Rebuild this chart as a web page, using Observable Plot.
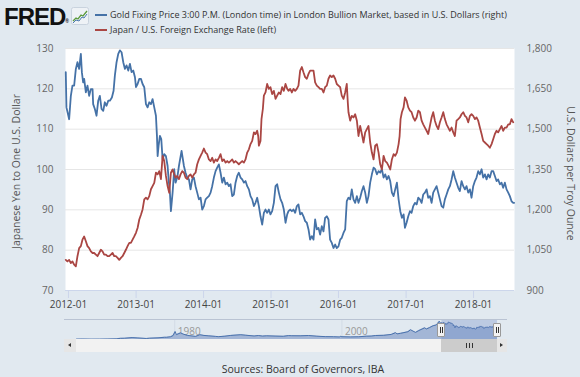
<!DOCTYPE html>
<html><head><meta charset="utf-8">
<script src="https://cdn.jsdelivr.net/npm/d3@7"></script>
<script src="https://cdn.jsdelivr.net/npm/@observablehq/plot@0.6"></script>
<style>
html,body{margin:0;padding:0;background:#e1e9f0;}
body{width:580px;height:377px;position:relative;overflow:hidden;font-family:"Open Sans",sans-serif;}
#header{position:absolute;left:0;top:0;width:580px;height:40px;}
#logo{position:absolute;left:4px;top:3px;font:bold 24px "Liberation Sans",Arial,sans-serif;color:#111;letter-spacing:-1px;}
#logo sup{font-size:5px;letter-spacing:0;vertical-align:top;position:relative;top:15px;}
#icon{position:absolute;left:71px;top:7px;}
.leg{position:absolute;left:95px;height:14px;font-size:9px;color:#333;white-space:nowrap;}
.leg i{position:absolute;left:0;top:6px;width:12px;height:2px;}
.leg span{position:absolute;left:15px;top:0;line-height:14px;}
#main{position:absolute;left:0;top:40px;}
#nav{position:absolute;left:0;top:319px;}
#navtop{position:absolute;left:64px;top:319px;width:443px;height:1px;background:#b9c3d3;}
#track{position:absolute;left:64px;top:339px;width:443px;height:13px;background:#f2f2f2;}
.btn{position:absolute;top:339px;width:12px;height:13px;background:#e6e6e6;}
.btn b{position:absolute;top:4px;width:0;height:0;border-top:2.5px solid transparent;border-bottom:2.5px solid transparent;}
#thumb{position:absolute;top:339px;height:13px;background:#cccccc;}
#thumb em{position:absolute;top:4px;width:1px;height:5px;background:#333;}
.handle{position:absolute;top:323px;width:6px;height:12px;background:#f2f2f2;border:1px solid #999;border-radius:1px;}
.handle i{position:absolute;top:3px;width:1px;height:6px;background:#333;}
#caption{position:absolute;left:0;top:362px;width:606px;text-align:center;font-size:10.5px;color:#333;}
</style></head><body>
<div id="header">
  <div id="logo">FRED<sup>®</sup></div>
  <svg id="icon" width="18" height="18" viewBox="0 0 18 18">
    <rect x="0.5" y="0.5" width="17" height="17" rx="2" fill="#eef2f6" stroke="#c9d3de"/>
    <polyline points="2,14 5,11 7,12 10,8 12,9 16,4" fill="none" stroke="#5b9a3c" stroke-width="1.3"/>
    <polyline points="2,16 5,13 8,14 11,10 13,11 16,7" fill="none" stroke="#4a78b0" stroke-width="1"/>
  </svg>
  <div class="leg" style="top:8px"><i style="background:#4572a7"></i><span id="leg1"></span></div>
  <div class="leg" style="top:23px"><i style="background:#aa4643"></i><span id="leg2"></span></div>
</div>
<div id="main"></div>
<div id="navtop"></div>
<div id="nav"></div>
<div id="track"></div>
<div class="btn" style="left:64px"><b style="left:4px;border-right:3px solid #333"></b></div>
<div class="btn" style="left:495px"><b style="left:5px;border-left:3px solid #333"></b></div>
<div id="thumb"><em></em><em></em><em></em></div>
<div class="handle" id="h1"><i style="left:1.5px"></i><i style="left:3.5px"></i></div>
<div class="handle" id="h2"><i style="left:1.5px"></i><i style="left:3.5px"></i></div>
<div id="caption"></div>
<script>
// ---------- text ----------
const goldSeriesName = "Gold Fixing Price 3:00 P.M. (London time) in London Bullion Market, based in U.S. Dollars (right)";
const yenSeriesName = "Japan / U.S. Foreign Exchange Rate (left)";
const leftTitle = "Japanese Yen to One U.S. Dollar";
const rightTitle = "U.S. Dollars per Troy Ounce";
const sourceText = "Sources: Board of Governors, IBA";

// ---------- axes ----------
const yenTicks = [70, 80, 90, 100, 110, 120, 130];
const goldTicks = [900, 1050, 1200, 1350, 1500, 1650, 1800];
const xRange = [2011.956, 2018.607];          // decimal years shown in the main chart
const navRange = [1968.25, 2018.607];         // decimal years shown in the navigator
const navYearLabels = [1980, 2000];

// ---------- data: [decimal year, value] ----------
const gold = [
[2011.960,1712],[2011.970,1581],[2012.010,1537],[2012.035,1624],[2012.059,1662],[2012.084,1662],[2012.109,1724],[2012.133,1749],[2012.158,1724],[2012.183,1780],[2012.198,1712],[2012.217,1674],[2012.232,1687],[2012.257,1637],[2012.281,1662],[2012.306,1624],[2012.331,1649],[2012.356,1649],[2012.365,1593],[2012.390,1575],[2012.415,1550],[2012.440,1606],[2012.464,1624],[2012.489,1575],[2012.514,1568],[2012.538,1600],[2012.563,1587],[2012.588,1606],[2012.612,1606],[2012.642,1618],[2012.667,1643],[2012.686,1699],[2012.711,1749],[2012.736,1780],[2012.760,1793],[2012.785,1786],[2012.810,1749],[2012.835,1724],[2012.859,1737],[2012.884,1718],[2012.909,1743],[2012.933,1712],[2012.958,1718],[2012.983,1693],[2012.998,1656],[2013.022,1668],[2013.047,1687],[2013.072,1687],[2013.096,1668],[2013.121,1656],[2013.146,1593],[2013.170,1581],[2013.195,1600],[2013.220,1593],[2013.244,1612],[2013.269,1581],[2013.294,1550],[2013.309,1475],[2013.319,1400],[2013.333,1438],[2013.353,1475],[2013.373,1463],[2013.393,1388],[2013.417,1407],[2013.442,1400],[2013.467,1363],[2013.482,1313],[2013.501,1264],[2013.516,1195],[2013.541,1264],[2013.565,1351],
[2013.585,1301],[2013.610,1320],[2013.635,1363],[2013.674,1419],[2013.709,1363],[2013.733,1338],[2013.758,1320],[2013.783,1313],[2013.807,1276],[2013.832,1313],[2013.857,1320],[2013.881,1288],[2013.906,1264],[2013.931,1239],[2013.956,1245],[2013.980,1201],[2014.005,1214],[2014.030,1239],[2014.054,1245],[2014.079,1251],[2014.104,1264],[2014.128,1288],[2014.153,1320],[2014.178,1344],[2014.202,1357],[2014.227,1369],[2014.252,1338],[2014.277,1301],[2014.301,1320],[2014.326,1295],[2014.351,1301],[2014.375,1288],[2014.400,1295],[2014.425,1251],[2014.449,1257],[2014.474,1301],[2014.499,1326],[2014.523,1338],[2014.548,1320],[2014.573,1313],[2014.598,1301],[2014.622,1307],[2014.647,1288],[2014.672,1276],[2014.696,1251],[2014.721,1239],[2014.746,1214],[2014.770,1226],[2014.795,1245],[2014.820,1214],[2014.844,1176],[2014.869,1145],[2014.894,1189],[2014.918,1201],[2014.943,1189],[2014.968,1201],[2014.992,1183],[2015.017,1195],[2015.042,1226],[2015.067,1288],[2015.091,1295],[2015.116,1264],[2015.141,1239],[2015.165,1226],[2015.190,1201],[2015.215,1152],[2015.240,1183],
[2015.259,1195],[2015.284,1201],[2015.309,1195],[2015.333,1201],[2015.358,1189],[2015.383,1214],[2015.407,1220],[2015.432,1183],[2015.457,1189],[2015.481,1176],[2015.506,1158],[2015.531,1152],[2015.556,1127],[2015.580,1089],[2015.605,1102],[2015.630,1089],[2015.654,1164],[2015.679,1127],[2015.704,1133],[2015.728,1108],[2015.753,1139],[2015.778,1120],[2015.802,1170],[2015.827,1176],[2015.852,1164],[2015.876,1089],[2015.901,1077],[2015.926,1058],[2015.951,1071],[2015.975,1058],[2016.000,1064],[2016.025,1089],[2016.049,1096],[2016.074,1114],[2016.099,1127],[2016.123,1232],[2016.148,1245],[2016.173,1239],[2016.197,1276],[2016.222,1239],[2016.247,1226],[2016.272,1251],[2016.296,1226],[2016.321,1245],[2016.346,1270],[2016.370,1288],[2016.395,1264],[2016.420,1226],[2016.444,1251],[2016.469,1301],[2016.494,1332],[2016.519,1357],[2016.543,1351],[2016.568,1332],[2016.593,1344],[2016.617,1338],[2016.642,1351],[2016.667,1320],[2016.691,1332],[2016.716,1313],[2016.741,1326],[2016.765,1307],[2016.790,1264],[2016.815,1251],[2016.839,1276],[2016.864,1301],[2016.889,1239],[2016.914,1195],[2016.938,1170],[2016.963,1183],
[2016.983,1133],[2017.007,1152],[2017.032,1176],[2017.057,1195],[2017.081,1189],[2017.106,1214],[2017.131,1226],[2017.156,1220],[2017.180,1245],[2017.205,1239],[2017.230,1226],[2017.254,1257],[2017.279,1264],[2017.304,1276],[2017.328,1245],[2017.353,1251],[2017.378,1226],[2017.402,1264],[2017.427,1276],[2017.452,1288],[2017.476,1264],[2017.501,1239],[2017.526,1214],[2017.551,1208],[2017.575,1239],[2017.600,1257],[2017.625,1276],[2017.649,1288],[2017.674,1313],[2017.699,1344],[2017.723,1320],[2017.748,1301],[2017.773,1282],[2017.797,1270],[2017.822,1307],[2017.847,1288],[2017.872,1276],[2017.896,1288],[2017.921,1264],[2017.946,1276],[2017.970,1245],[2017.995,1288],[2018.020,1307],[2018.044,1320],[2018.069,1344],[2018.094,1332],[2018.119,1351],[2018.143,1320],[2018.168,1332],[2018.193,1313],[2018.217,1332],[2018.242,1320],[2018.267,1344],[2018.291,1344],[2018.316,1326],[2018.341,1307],[2018.365,1313],[2018.390,1295],[2018.415,1301],[2018.439,1282],[2018.464,1301],[2018.489,1276],[2018.514,1264],[2018.538,1251],[2018.563,1232],[2018.588,1226],[2018.602,1226]
];

const yen = [
[2011.960,77.6],[2011.984,77.2],[2012.010,77.6],[2012.035,76.8],[2012.059,77.2],[2012.084,76.4],[2012.109,76.0],[2012.133,78.5],[2012.158,80.5],[2012.183,81.0],[2012.207,82.6],[2012.232,83.4],[2012.257,82.2],[2012.281,81.0],[2012.306,80.5],[2012.331,79.7],[2012.356,79.3],[2012.380,79.3],[2012.405,78.9],[2012.430,78.5],[2012.454,79.3],[2012.479,80.1],[2012.504,79.7],[2012.528,78.9],[2012.553,78.9],[2012.578,78.5],[2012.602,78.5],[2012.627,78.9],[2012.652,79.3],[2012.677,78.5],[2012.701,78.5],[2012.726,78.1],[2012.751,77.6],[2012.775,78.1],[2012.800,78.5],[2012.825,79.3],[2012.849,80.1],[2012.874,81.0],[2012.899,81.8],[2012.923,81.8],[2012.948,82.6],[2012.973,83.4],[2012.998,84.3],[2013.022,85.5],[2013.047,87.6],[2013.072,88.8],[2013.096,90.1],[2013.121,92.6],[2013.146,93.0],[2013.170,92.6],[2013.195,93.4],[2013.220,95.1],[2013.244,95.9],[2013.269,96.7],[2013.294,99.2],[2013.319,98.8],[2013.343,99.6],[2013.368,97.6],[2013.393,103.4],[2013.417,102.1],[2013.442,98.4],[2013.467,95.9],[2013.491,94.2],[2013.516,99.2],[2013.541,100.0],[2013.565,98.8],
[2013.585,98.0],[2013.610,98.4],[2013.635,97.6],[2013.659,98.8],[2013.684,99.6],[2013.709,99.2],[2013.733,98.0],[2013.758,97.6],[2013.783,98.4],[2013.807,98.8],[2013.832,98.0],[2013.857,98.8],[2013.881,99.2],[2013.906,101.3],[2013.931,102.5],[2013.956,103.4],[2013.980,104.2],[2014.005,105.2],[2014.030,104.2],[2014.054,103.8],[2014.079,102.5],[2014.104,102.1],[2014.128,102.9],[2014.153,101.7],[2014.178,102.5],[2014.202,102.1],[2014.227,102.9],[2014.252,103.8],[2014.277,102.1],[2014.301,102.5],[2014.326,101.7],[2014.351,102.1],[2014.375,101.7],[2014.400,102.1],[2014.425,102.5],[2014.449,101.7],[2014.474,102.1],[2014.499,101.7],[2014.523,101.3],[2014.548,101.7],[2014.573,102.1],[2014.598,101.7],[2014.622,102.5],[2014.647,104.2],[2014.672,105.0],[2014.696,106.3],[2014.721,107.1],[2014.746,109.2],[2014.770,108.8],[2014.795,109.6],[2014.810,108.3],[2014.820,105.9],[2014.844,107.1],[2014.859,112.5],[2014.879,115.0],[2014.894,118.3],[2014.918,119.1],[2014.943,121.2],[2014.968,120.0],[2014.992,120.4],[2015.017,118.7],[2015.042,119.5],[2015.067,117.5],[2015.091,118.3],[2015.116,119.1],[2015.141,118.7],[2015.165,120.4],[2015.190,119.5],[2015.215,121.2],[2015.240,120.0],
[2015.259,119.5],[2015.284,120.0],[2015.309,119.1],[2015.333,120.0],[2015.358,119.5],[2015.383,120.0],[2015.407,120.8],[2015.432,124.5],[2015.457,125.4],[2015.481,124.1],[2015.506,122.9],[2015.531,122.5],[2015.556,123.7],[2015.580,124.5],[2015.605,124.5],[2015.630,124.5],[2015.654,121.6],[2015.679,120.8],[2015.704,120.4],[2015.728,120.0],[2015.753,120.0],[2015.778,119.1],[2015.802,120.4],[2015.827,120.8],[2015.852,122.5],[2015.876,123.3],[2015.901,122.9],[2015.926,123.3],[2015.951,122.5],[2015.975,121.2],[2016.000,120.8],[2016.025,120.4],[2016.049,118.3],[2016.074,117.5],[2016.099,119.1],[2016.123,121.2],[2016.138,116.6],[2016.148,114.2],[2016.173,112.1],[2016.197,113.3],[2016.222,112.9],[2016.247,113.7],[2016.272,112.1],[2016.296,108.3],[2016.321,110.8],[2016.346,108.8],[2016.370,106.7],[2016.395,109.2],[2016.420,110.0],[2016.444,110.8],[2016.469,106.7],[2016.494,104.2],[2016.519,102.5],[2016.543,105.9],[2016.568,106.3],[2016.593,104.2],[2016.617,101.3],[2016.642,100.0],[2016.667,103.4],[2016.691,102.1],[2016.716,101.7],[2016.741,100.9],[2016.765,100.0],[2016.790,102.5],[2016.815,103.8],[2016.839,103.4],[2016.864,104.2],[2016.889,106.3],[2016.904,108.3],[2016.918,112.5],[2016.938,114.2],[2016.963,115.4],
[2016.983,117.9],[2017.007,117.1],[2017.032,115.4],[2017.057,114.6],[2017.081,114.2],[2017.106,112.9],[2017.131,112.1],[2017.156,112.9],[2017.180,114.6],[2017.205,114.2],[2017.230,112.1],[2017.254,111.2],[2017.279,110.4],[2017.304,109.6],[2017.328,108.8],[2017.353,110.8],[2017.378,112.9],[2017.402,114.2],[2017.427,112.1],[2017.452,110.8],[2017.476,110.0],[2017.501,111.7],[2017.526,112.9],[2017.551,114.2],[2017.575,112.5],[2017.600,111.2],[2017.625,110.4],[2017.649,109.6],[2017.674,110.4],[2017.699,109.2],[2017.723,108.3],[2017.748,112.1],[2017.773,112.5],[2017.797,112.9],[2017.822,113.7],[2017.847,114.2],[2017.872,113.3],[2017.896,112.9],[2017.921,111.7],[2017.946,113.3],[2017.970,113.7],[2017.995,113.3],[2018.020,112.5],[2018.044,112.9],[2018.069,112.1],[2018.094,110.4],[2018.119,108.8],[2018.143,107.1],[2018.168,106.7],[2018.193,106.3],[2018.217,105.9],[2018.242,105.4],[2018.267,106.3],[2018.291,107.5],[2018.316,108.8],[2018.341,109.6],[2018.365,109.2],[2018.390,110.0],[2018.415,110.8],[2018.439,109.6],[2018.464,110.4],[2018.489,110.4],[2018.514,111.2],[2018.538,111.2],[2018.563,112.5],[2018.588,111.7]
];

// long gold history shown in the navigator strip (before the main window)
const goldHistory = [
[1968.25,38],[1969.0,42],[1970.0,35],[1971.0,38],[1972.0,48],[1973.0,65],[1973.5,120],[1974.0,130],[1974.9,195],[1975.5,165],[1976.6,105],[1977.0,135],[1978.0,170],[1978.8,230],[1979.0,225],[1979.5,280],[1979.8,400],[1980.05,820],[1980.2,500],[1980.7,680],[1981.0,560],[1981.5,420],[1982.5,320],[1983.0,490],[1983.5,420],[1984.0,380],[1984.9,320],[1985.2,290],[1986.0,340],[1986.7,420],[1987.9,490],[1988.5,440],[1989.5,360],[1990.0,410],[1990.5,350],[1991.0,380],[1992.0,350],[1993.0,330],[1993.6,400],[1994.0,385],[1995.0,380],[1996.0,410],[1997.0,340],[1998.0,295],[1999.0,285],[1999.7,260],[1999.8,320],[2000.0,285],[2001.0,265],[2002.0,280],[2002.9,340],[2003.5,350],[2004.0,410],[2005.0,430],[2005.9,520],[2006.4,700],[2006.6,580],[2007.0,630],[2007.9,800],[2008.2,1000],[2008.8,730],[2009.2,920],[2009.9,1200],[2010.1,1080],[2010.5,1230],[2010.9,1410],[2011.3,1500],[2011.65,1880],[2011.8,1650],[2011.9,1720]
];

// ---------- helpers ----------
function toDate(y) {
  const yr = Math.floor(y), s = Date.UTC(yr, 0, 1), e = Date.UTC(yr + 1, 0, 1);
  return new Date(s + (y - yr) * (e - s));
}
// right axis: 900–1800 USD shares the 70–130 yen frame
const goldToYenAxis = g => 70 + (g - 900) * (130 - 70) / (1800 - 900);
const goldRows = gold.map(([t, v]) => ({date: toDate(t), value: v}));
const yenRows = yen.map(([t, v]) => ({date: toDate(t), value: v}));
const navRows = goldHistory.concat(gold).map(([t, v]) => ({date: toDate(t), value: v}));

document.getElementById("leg1").textContent = goldSeriesName;
document.getElementById("leg2").textContent = yenSeriesName;
document.getElementById("caption").textContent = sourceText;

// ---------- main chart ----------
const main = Plot.plot({
  width: 580, height: 279,
  marginTop: 8, marginBottom: 29, marginLeft: 65, marginRight: 66,
  style: {background: "transparent", fontFamily: "Open Sans", fontSize: "10px", color: "#555", overflow: "visible"},
  x: {type: "utc", domain: xRange.map(toDate)},
  y: {domain: [70, 130]},
  marks: [
    Plot.frame({fill: "white", stroke: null}),
    Plot.ruleY(yenTicks, {stroke: "#e6e6e6", strokeWidth: 1}),
    Plot.ruleY([yenTicks[0]], {stroke: "#ccd6eb", strokeWidth: 1}),
    Plot.axisX({ticks: d3.utcYear.every(1), tickFormat: d3.utcFormat("%Y-%m"), tickSize: 8, tickPadding: 2,
                stroke: "#ccd6eb", fill: "#444", label: null}),
    Plot.axisY({ticks: yenTicks, tickSize: 0, tickPadding: 12, fill: "#666", label: null}),
    Plot.text(goldTicks, {y: goldToYenAxis, frameAnchor: "right", dx: 12, textAnchor: "start",
                          text: d => d3.format(",")(d), fill: "#666"}),
    Plot.text([leftTitle], {frameAnchor: "left", dx: -49, dy: 2, rotate: -90, textAnchor: "middle", fill: "#555", fontSize: 10.5}),
    Plot.text([rightTitle], {frameAnchor: "right", dx: 56, dy: 4, rotate: 90, textAnchor: "middle", fill: "#555", fontSize: 10.5}),
    Plot.lineY(goldRows, {x: "date", y: d => goldToYenAxis(d.value), stroke: "#4572a7", strokeWidth: 1.8, strokeLinejoin: "round"}),
    Plot.lineY(yenRows, {x: "date", y: "value", stroke: "#aa4643", strokeWidth: 1.8, strokeLinejoin: "round"})
  ]
});
document.getElementById("main").appendChild(main);

// ---------- navigator ----------
const selection = [{x1: toDate(xRange[0]), x2: toDate(xRange[1])}];
const nav = Plot.plot({
  width: 580, height: 20,
  marginTop: 1, marginBottom: 0, marginLeft: 76, marginRight: 83,
  style: {background: "transparent", fontFamily: "Open Sans", fontSize: "10px", overflow: "visible"},
  x: {type: "utc", domain: navRange.map(toDate), axis: null},
  y: {domain: [0, 1950], axis: null},
  marks: [
    Plot.ruleX(navYearLabels.map(y => toDate(y)), {stroke: "#d3dbe6"}),
    Plot.text(navYearLabels, {x: d => toDate(d), dx: 3, frameAnchor: "bottom", dy: -5, textAnchor: "start", text: d => String(d), fill: "#999"}),
    Plot.areaY(navRows, {x: "date", y: "value", fill: "#9cb0d3", fillOpacity: 0.9}),
    Plot.lineY(navRows, {x: "date", y: "value", stroke: "#4a72ad", strokeWidth: 1}),
    Plot.rectX(selection, {x1: "x1", x2: "x2", fill: "rgba(102,133,194,0.3)"})
  ]
});
document.getElementById("nav").appendChild(nav);

// scrollbar thumb and handles follow the selected window
const nx = nav.scale("x");
const sx1 = nx.apply(selection[0].x1), sx2 = nx.apply(selection[0].x2);
const thumb = document.getElementById("thumb");
thumb.style.left = sx1 + "px"; thumb.style.width = (sx2 - sx1) + "px";
const ems = thumb.querySelectorAll("em"); const mid = (sx2 - sx1) / 2;
ems[0].style.left = (mid - 3) + "px"; ems[1].style.left = mid + "px"; ems[2].style.left = (mid + 3) + "px";
document.getElementById("h1").style.left = (sx1 - 4) + "px";
document.getElementById("h2").style.left = (sx2 - 4) + "px";
</script>
</body></html>
